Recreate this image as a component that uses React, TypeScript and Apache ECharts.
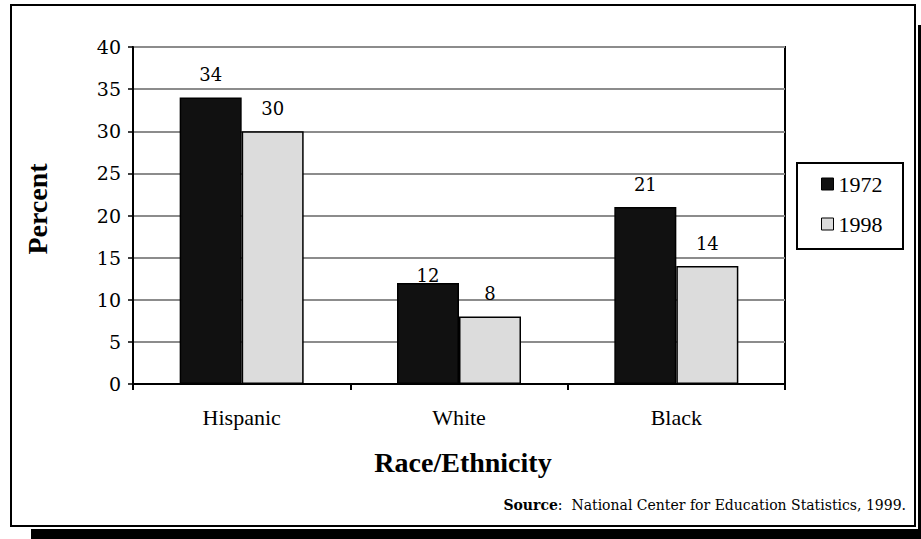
import React, { useEffect, useRef } from "react";
import * as echarts from "echarts";

const categories = ["Hispanic", "White", "Black"];
const seriesNames = ["1972", "1998"];
const values1972 = [34, 12, 21];
const values1998 = [30, 8, 14];
const yTicks = { min: 0, max: 40, interval: 5 };
const xTitle = "Race/Ethnicity";
const yTitle = "Percent";
const sourceLabel = "Source";
const sourceText = ":  National Center for Education Statistics, 1999.";

const NUM_FONT = "'DejaVu Serif', serif";
const TXT_FONT = "'Liberation Serif', 'Times New Roman', serif";

export default function App() {
  const ref = useRef<HTMLDivElement>(null);
  useEffect(() => {
    if (!ref.current) return;
    const chart = echarts.init(ref.current, null, { renderer: "svg" });
    const labelBase = {
      show: true,
      position: "top",
      distance: 14,
      color: "#000",
      fontFamily: NUM_FONT,
      fontSize: 18,
    };
    chart.setOption({
      animation: false,
      backgroundColor: "#fff",
      grid: {
        left: 133,
        top: 47,
        right: 136,
        bottom: 155,
        show: true,
        borderColor: "#000",
        borderWidth: 2,
        backgroundColor: "transparent",
      },
      legend: {
        orient: "vertical",
        left: 816,
        top: 168,
        icon: "rect",
        itemWidth: 12,
        itemHeight: 12,
        itemGap: 18,
        data: seriesNames,
        textStyle: { fontFamily: TXT_FONT, fontSize: 22, color: "#000" },
        itemStyle: { borderColor: "#000", borderWidth: 1 },
      },
      xAxis: {
        type: "category",
        data: categories,
        axisLine: { show: true, lineStyle: { color: "#000", width: 2 } },
        axisTick: { show: true, length: 6, lineStyle: { color: "#000", width: 2 } },
        axisLabel: { margin: 22, fontFamily: TXT_FONT, fontSize: 22, color: "#000" },
        splitLine: { show: false },
      },
      yAxis: {
        type: "value",
        min: yTicks.min,
        max: yTicks.max,
        interval: yTicks.interval,
        axisLine: { show: true, lineStyle: { color: "#000", width: 2 } },
        axisTick: { show: true, length: 5, lineStyle: { color: "#000", width: 1.5 } },
        axisLabel: { margin: 12, fontFamily: NUM_FONT, fontSize: 19, color: "#000" },
        splitLine: { show: true, lineStyle: { color: "#8c8c8c", width: 2 } },
      },
      series: [
        {
          name: seriesNames[0],
          type: "bar",
          barWidth: 62,
          barGap: "0%",
          data: values1972.map((v, i) =>
            i === 1 ? { value: v, label: { distance: -2 } } : v
          ),
          itemStyle: { color: "#111", borderColor: "#000", borderWidth: 1.5 },
          label: labelBase,
        },
        {
          name: seriesNames[1],
          type: "bar",
          barWidth: 62,
          barGap: "0%",
          data: values1998,
          itemStyle: { color: "#dcdcdc", borderColor: "#000", borderWidth: 1.5 },
          label: labelBase,
        },
      ],
      graphic: [
        { type: "rect", z: -20, shape: { x: 31, y: 529, width: 890, height: 10 }, style: { fill: "#000" } },
        { type: "rect", z: -20, shape: { x: 918, y: 25, width: 3, height: 514 }, style: { fill: "#000" } },
        {
          type: "rect",
          z: -10,
          shape: { x: 11, y: 5, width: 904, height: 521 },
          style: { fill: "#fff", stroke: "#000", lineWidth: 2 },
        },
        {
          type: "rect",
          shape: { x: 797, y: 163, width: 106, height: 86 },
          style: { fill: "transparent", stroke: "#000", lineWidth: 2 },
        },
        {
          type: "text",
          x: 37,
          y: 209,
          rotation: Math.PI / 2,
          style: {
            text: yTitle,
            font: `bold 28px ${TXT_FONT}`,
            fill: "#000",
            align: "center",
            verticalAlign: "middle",
          },
        },
        {
          type: "text",
          x: 463,
          y: 462,
          style: {
            text: xTitle,
            font: `bold 28px ${TXT_FONT}`,
            fill: "#000",
            align: "center",
            verticalAlign: "middle",
          },
        },
        {
          type: "text",
          x: 906,
          y: 505,
          style: {
            text: `{b|${sourceLabel}}{n|${sourceText}}`,
            align: "right",
            verticalAlign: "middle",
            rich: {
              b: { fontFamily: NUM_FONT, fontSize: 14, fontWeight: "bold", fill: "#000" },
              n: { fontFamily: NUM_FONT, fontSize: 14, fill: "#000" },
            },
          },
        },
      ],
    });
    return () => chart.dispose();
  }, []);
  return (
    <div
      ref={ref}
      style={{ position: "fixed", left: 0, top: 0, width: 921, height: 539 }}
    />
  );
}
